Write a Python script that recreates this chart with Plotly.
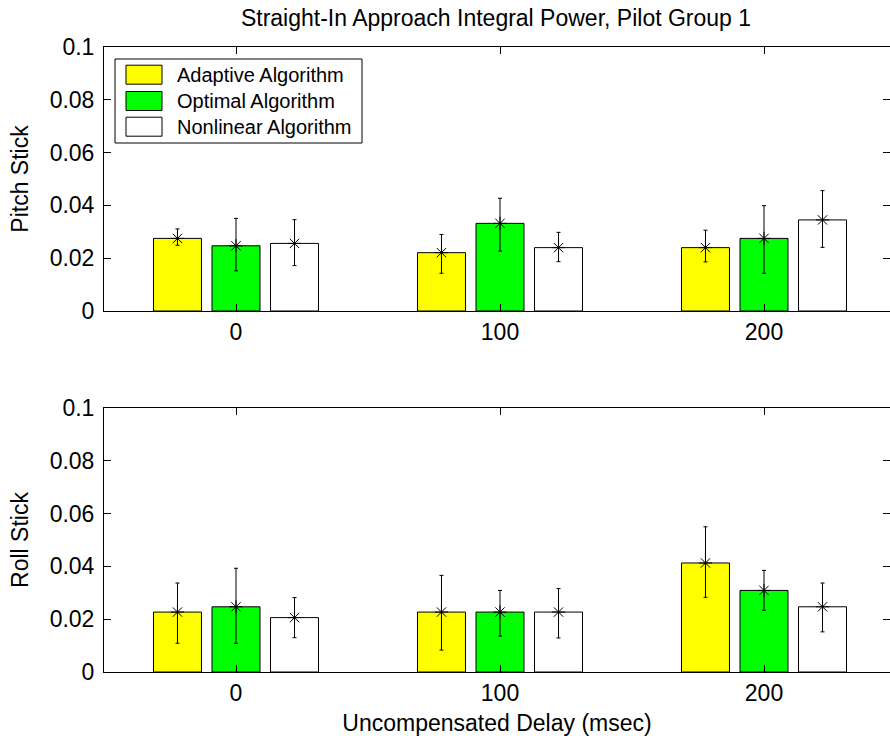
import plotly.graph_objects as go

# ---------------- data ----------------
delays = [0, 100, 200]
delay_labels = ["0", "100", "200"]
series_names = ["Adaptive Algorithm", "Optimal Algorithm", "Nonlinear Algorithm"]
series_colors = ["#FFFF00", "#00FF00", "#FFFFFF"]

# Pitch stick (top panel): mean, upper and lower error-bar ends
pitch_adaptive = [0.0275, 0.0221, 0.0240]
pitch_adaptive_hi = [0.0311, 0.0290, 0.0306]
pitch_adaptive_lo = [0.0249, 0.0143, 0.0186]
pitch_optimal = [0.0247, 0.0332, 0.0275]
pitch_optimal_hi = [0.0351, 0.0427, 0.0399]
pitch_optimal_lo = [0.0152, 0.0227, 0.0143]
pitch_nonlinear = [0.0256, 0.0240, 0.0345]
pitch_nonlinear_hi = [0.0346, 0.0298, 0.0456]
pitch_nonlinear_lo = [0.0172, 0.0187, 0.0241]

# Roll stick (bottom panel)
roll_adaptive = [0.0227, 0.0227, 0.0413]
roll_adaptive_hi = [0.0337, 0.0366, 0.0550]
roll_adaptive_lo = [0.0109, 0.0083, 0.0283]
roll_optimal = [0.0247, 0.0227, 0.0309]
roll_optimal_hi = [0.0393, 0.0309, 0.0385]
roll_optimal_lo = [0.0109, 0.0136, 0.0234]
roll_nonlinear = [0.0206, 0.0227, 0.0247]
roll_nonlinear_hi = [0.0282, 0.0316, 0.0337]
roll_nonlinear_lo = [0.0130, 0.0129, 0.0152]

y_tickvals = [0, 0.02, 0.04, 0.06, 0.08, 0.1]
y_ticktext = ["0", "0.02", "0.04", "0.06", "0.08", "0.1"]

title_text = "Straight-In Approach Integral Power, Pilot Group 1"
panel_titles = ["Pitch Stick", "Roll Stick"]
x_title = "Uncompensated Delay (msec)"

# ---------------- layout constants ----------------
W, H = 890, 736
FONT = "Liberation Sans, Arial, Helvetica, sans-serif"
FS = 23
BARGAP = 0.335
BARGROUPGAP = 0.18
SPACING = 100
slot = (1 - BARGAP) * SPACING / 3
offsets = [(i - 1) * slot for i in range(3)]

px = lambda x: x / W
py = lambda y: 1 - y / H

panels = [
    dict(means=[pitch_adaptive, pitch_optimal, pitch_nonlinear],
         his=[pitch_adaptive_hi, pitch_optimal_hi, pitch_nonlinear_hi],
         los=[pitch_adaptive_lo, pitch_optimal_lo, pitch_nonlinear_lo],
         ydom=[py(311), py(47)]),
    dict(means=[roll_adaptive, roll_optimal, roll_nonlinear],
         his=[roll_adaptive_hi, roll_optimal_hi, roll_nonlinear_hi],
         los=[roll_adaptive_lo, roll_optimal_lo, roll_nonlinear_lo],
         ydom=[py(672), py(408)]),
]

fig = go.Figure()

for p, panel in enumerate(panels):
    xa = "x" if p == 0 else "x2"
    ya = "y" if p == 0 else "y2"
    for i in range(3):
        fig.add_trace(go.Bar(
            x=delays, y=panel["means"][i], name=series_names[i],
            marker=dict(color=series_colors[i], line=dict(color="black", width=1)),
            xaxis=xa, yaxis=ya, showlegend=False, offsetgroup=str(i),
        ))
    for i in range(3):
        m = panel["means"][i]
        fig.add_trace(go.Scatter(
            x=[d + offsets[i] for d in delays], y=m, mode="markers",
            marker=dict(symbol="asterisk-open", size=11, color="black",
                        line=dict(color="black", width=1)),
            error_y=dict(type="data", symmetric=False,
                         array=[h - v for h, v in zip(panel["his"][i], m)],
                         arrayminus=[v - l for l, v in zip(panel["los"][i], m)],
                         color="black", thickness=1, width=2),
            xaxis=xa, yaxis=ya, showlegend=False, hoverinfo="skip",
        ))

axis_common = dict(showgrid=False, zeroline=False, showline=True, linecolor="black",
                   linewidth=1, ticks="inside", ticklen=7, tickcolor="black",
                   mirror="ticks", tickfont=dict(family=FONT, size=FS, color="black"),
                   automargin=False)

x_range = [-50, -50 + (W - 104) / 2.64]
for p, panel in enumerate(panels):
    xk = "xaxis" if p == 0 else "xaxis2"
    yk = "yaxis" if p == 0 else "yaxis2"
    xax = dict(axis_common, domain=[px(104), 1], range=x_range,
               tickvals=delays, ticktext=delay_labels, ticklabelstandoff=0)
    if p == 1:
        xax["anchor"] = "y2"
        xax["title"] = dict(text=x_title, font=dict(family=FONT, size=FS, color="black"),
                            standoff=10)
    fig.update_layout({xk: xax})
    yax = dict(axis_common, domain=panel["ydom"], range=[0, 0.1],
               tickvals=y_tickvals, ticktext=y_ticktext, ticklabelstandoff=4,
               title=dict(text=panel_titles[p], font=dict(family=FONT, size=FS, color="black"),
                          standoff=14))
    if p == 1:
        yax["anchor"] = "x2"
    fig.update_layout({yk: yax})

# ---------------- legend (drawn box) ----------------
shapes = [dict(type="rect", xref="paper", yref="paper",
               x0=px(115), x1=px(362), y0=py(143), y1=py(59),
               line=dict(color="black", width=1), fillcolor="white", layer="above")]
annotations = []
row_centers = [74.7, 101, 126.7]
for i, name in enumerate(series_names):
    cy = row_centers[i]
    shapes.append(dict(type="rect", xref="paper", yref="paper",
                       x0=px(126), x1=px(162), y0=py(cy + 9.5), y1=py(cy - 9.5),
                       line=dict(color="black", width=1), fillcolor=series_colors[i],
                       layer="above"))
    annotations.append(dict(xref="paper", yref="paper", x=px(175), y=py(cy),
                            xanchor="left", yanchor="middle", showarrow=False,
                            text=name, font=dict(family=FONT, size=20, color="black")))

fig.update_layout(
    width=W, height=H,
    margin=dict(l=0, r=0, t=0, b=0),
    paper_bgcolor="white", plot_bgcolor="white",
    barmode="group", bargap=BARGAP, bargroupgap=BARGROUPGAP,
    showlegend=False,
    title=dict(text=title_text, x=px(496), xanchor="center", y=py(18), yanchor="middle",
               xref="paper", yref="paper",
               font=dict(family=FONT, size=FS, color="black")),
    shapes=shapes, annotations=annotations,
    font=dict(family=FONT, color="black"),
)

fig.write_html("out.html")
